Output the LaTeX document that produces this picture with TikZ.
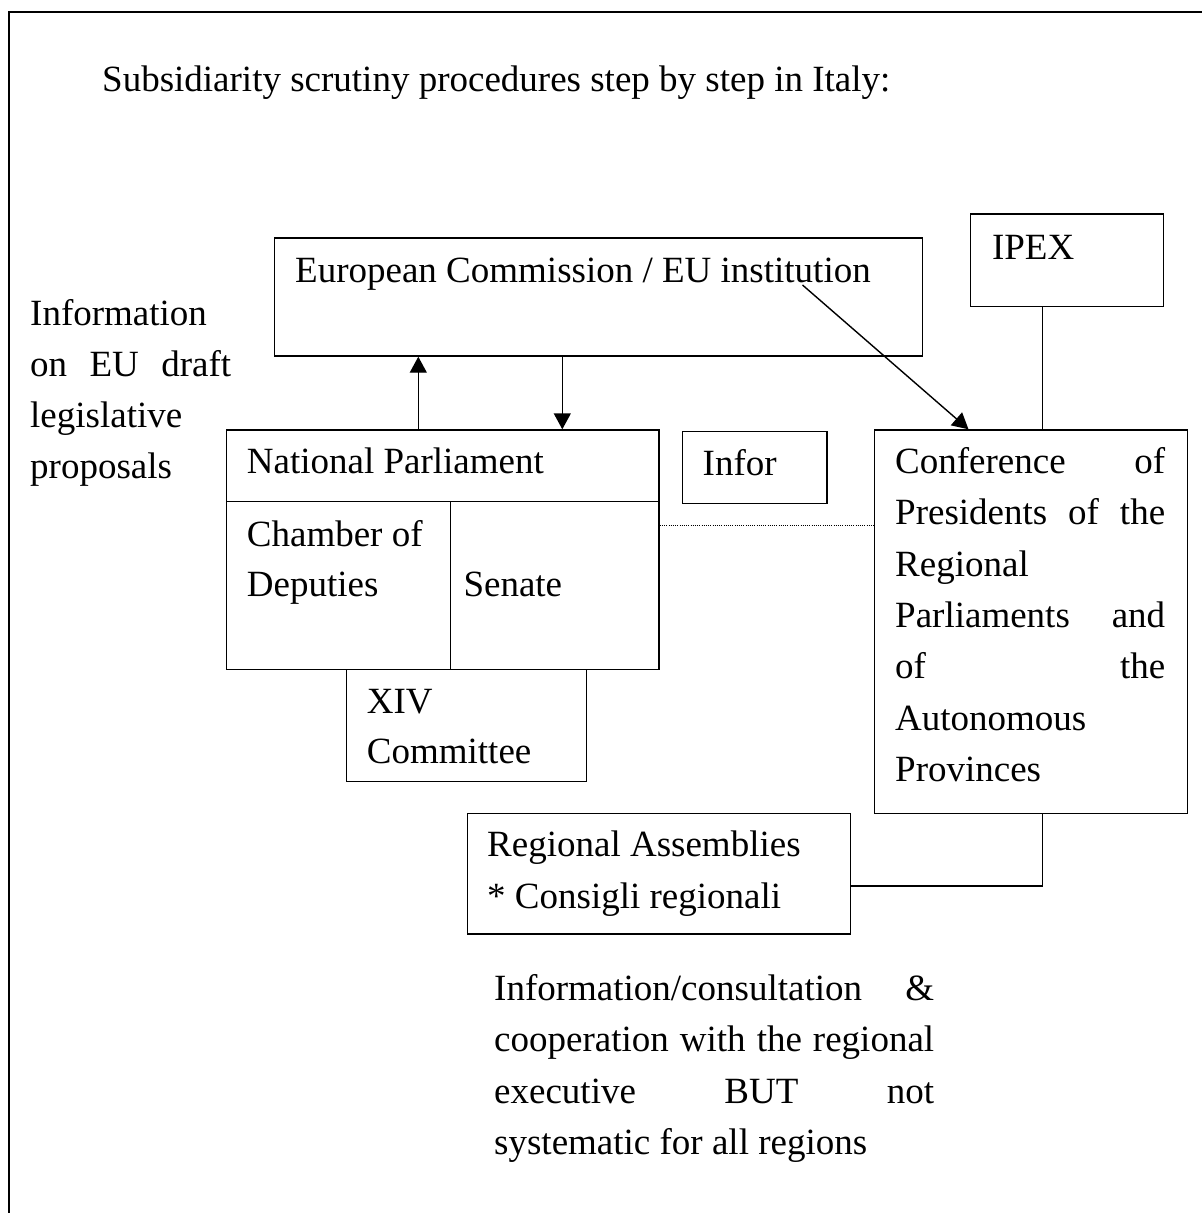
\documentclass[tikz,border=0pt]{standalone}
\usepackage{fontspec}
\setmainfont{Liberation Serif}
\usetikzlibrary{arrows.meta,calc}
\newcommand{\jpar}[2]{\parbox[t]{#1}{\tolerance=10000\hyphenpenalty=10000\relax #2}}
\begin{document}
\begin{tikzpicture}[x=1pt,y=-1pt,
  box/.style={draw,line width=1.4pt,inner sep=0pt,anchor=north west},
  lbl/.style={inner sep=0pt,anchor=base west,font=\fontsize{37}{51.4}\selectfont},
  arr/.style={line width=1.4pt,-{Triangle[length=16pt,width=17pt]}},
  link/.style={line width=1.4pt},
  dotline/.style={line width=0.9pt,dash pattern=on 1pt off 1.2pt}]
\useasboundingbox (0,0) rectangle (1202,1213);
% frame
\draw[line width=2pt] (8.7,1213) -- (8.7,12.3) -- (1202,12.3);
% title
\node[lbl] (title) at (102,91.7) {Subsidiarity scrutiny procedures step by step in Italy:};
% left info text
\node[lbl] (info) at (30,325) {\jpar{201pt}{\baselineskip=51pt Information\linebreak on EU draft\linebreak legislative\linebreak proposals}};
% boxes
\node[box,minimum width=648pt,minimum height=118pt] (ec) at (274,237.3) {};
\node[lbl] (ect) at (295,282) {European Commission / EU institution};
\node[box,minimum width=193pt,minimum height=92.7pt] (ipex) at (969.6,213.3) {};
\node[lbl] (ipext) at (991.8,259) {IPEX};
\node[box,minimum width=432.6pt,minimum height=239.4pt] (np) at (225.7,429.3) {};
\node[lbl] (npt) at (246.7,473.3) {National Parliament};
\node[box,minimum width=224.3pt,minimum height=167.7pt] (chamber) at (225.7,501) {};
\node[box,minimum width=208.3pt,minimum height=167.7pt] (senate) at (450,501) {};
\node[lbl] (chambert) at (246.7,546) {\jpar{200pt}{\baselineskip=50.7pt Chamber of\\Deputies}};
\node[lbl] (senatet) at (463.3,596.7) {Senate};
\node[box,minimum width=240pt,minimum height=112.3pt] (xiv) at (346,668.7) {};
\node[lbl] (xivt) at (366.7,713.3) {\jpar{210pt}{\baselineskip=50pt XIV\\Committee}};
\node[box,minimum width=144.6pt,minimum height=72pt] (infor) at (681.8,430.7) {};
\node[lbl] (infort) at (702.5,475) {Infor};
\node[box,minimum width=312.7pt,minimum height=383.4pt] (conf) at (874,429.3) {};
\node[lbl] (conft) at (895,473.3) {\jpar{270pt}{\baselineskip=51.4pt Conference of\linebreak Presidents of the\linebreak Regional\linebreak Parliaments and\linebreak of the\linebreak Autonomous\linebreak Provinces}};
\node[box,minimum width=383.5pt,minimum height=120.3pt] (reg) at (466.5,813) {};
\node[lbl] (regt) at (487,856.7) {\jpar{350pt}{\baselineskip=51.6pt Regional Assemblies\\{}* Consigli regionali}};
\node[lbl] (bottom) at (494,1000) {\jpar{440pt}{\baselineskip=51.5pt Information/consultation \&\linebreak cooperation with the regional\linebreak executive BUT not\linebreak systematic for all regions}};
% helper coordinates
\coordinate (xup) at (418.3,0);
\coordinate (xdown) at (562.3,0);
\coordinate (xv) at (1042.5,0);
\coordinate (ydot) at (0,525);
\coordinate (yjoin) at (0,886);
\coordinate (diagS) at (802.5,285);
% connectors
\draw[arr] (np.north -| xup) -- (ec.south -| xup);
\draw[arr] (ec.south -| xdown) -- (np.north -| xdown);
\draw[arr] (diagS) -- ($(conf.north west)+(94.5,0)$);
\draw[link] (ipex.south -| xv) -- (conf.north -| xv);
\draw[link] (conf.south -| xv) |- (reg.east |- yjoin);
\draw[dotline] (np.east |- ydot) -- (conf.west |- ydot);
\end{tikzpicture}
\end{document}
